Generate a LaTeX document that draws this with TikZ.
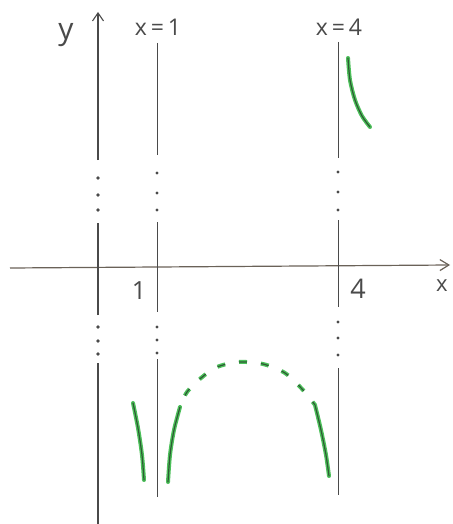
\documentclass[tikz,border=0pt]{standalone}
\usepackage{fontspec}
\setmainfont{Open Sans}
\usetikzlibrary{arrows.meta}
\definecolor{pencil}{HTML}{4A4A4A}
\definecolor{axisc}{HTML}{6A6258}
\definecolor{grn}{HTML}{4CC05A}
\definecolor{grnd}{HTML}{2E5A34}
\tikzset{
  pen/.style={draw=pencil, line width=1.1pt},
  dotm/.style={fill=pencil, draw=none},
  lbl/.style={text=pencil, inner sep=0pt, font=\fontsize{23}{23}\selectfont},
  branchg/.style={draw=grn, line width=4pt, line cap=round},
  branchd/.style={draw=grnd, line width=1.2pt, line cap=round},
}
\begin{document}
\begin{tikzpicture}[x=1pt,y=-1pt]
\useasboundingbox[fill=white] (0,0) rectangle (452,524);
% x-axis
\coordinate (xa0) at (10,268);
\coordinate (xa1) at (450,265);
\draw[draw=axisc, line width=1.2pt, -{Straight Barb[length=9pt,width=11pt]}] (xa0) -- (xa1);
% y-axis
\coordinate (ya0) at (98,524);
\coordinate (ya1) at (98,363);
\coordinate (ya2) at (98,315);
\coordinate (ya3) at (98,223);
\coordinate (ya4) at (98,160);
\coordinate (ya5) at (98,12);
\draw[pen] (ya0) -- (ya1);
\draw[pen] (ya2) -- (ya3);
\draw[pen, -{Straight Barb[length=8pt,width=11pt]}] (ya4) -- (ya5);
\foreach \yy in {354,341,327,210,195,178} \fill[dotm] (98,\yy) circle (1.9);
% asymptote x=1
\coordinate (a0) at (157,43);
\coordinate (a1) at (157,155);
\coordinate (a2) at (157,222);
\coordinate (a3) at (157,312);
\coordinate (a4) at (157,359);
\coordinate (a5) at (157,497);
\draw[pen, line width=0.9pt] (a0) -- (a1);
\draw[pen, line width=0.9pt] (a2) -- (a3);
\draw[pen, line width=0.9pt] (a4) -- (a5);
\foreach \yy in {173,193,210,327,340,353} \fill[dotm] (157,\yy) circle (1.7);
% asymptote x=4
\coordinate (b0) at (338,42);
\coordinate (b1) at (338,158);
\coordinate (b2) at (338,220);
\coordinate (b3) at (338,307);
\coordinate (b4) at (338,368);
\coordinate (b5) at (338,495);
\draw[pen, line width=0.9pt] (b0) -- (b1);
\draw[pen, line width=0.9pt] (b2) -- (b3);
\draw[pen, line width=0.9pt] (b4) -- (b5);
\foreach \yy in {172,192,210,322,338,355} \fill[dotm] (338,\yy) circle (1.7);
% labels
\node[lbl, font=\fontsize{30}{30}\selectfont] (ly) at (66,35) {y};
\node[lbl] (l1) at (158,27) {x\,=\,1};
\node[lbl] (l4) at (339,27) {x\,=\,4};
\node[lbl, font=\fontsize{25}{25}\selectfont] (t1) at (139,291) {1};
\node[lbl, font=\fontsize{27}{27}\selectfont] (t4) at (358,289) {4};
\node[lbl, font=\fontsize{22}{22}\selectfont] (tx) at (442,286) {x};
% green branches
\foreach \s in {branchg, branchd} {
  \draw[\s] plot[smooth] coordinates {(348,58) (350,80) (355,100) (362,116) (370,127)};
  \draw[\s] plot[smooth] coordinates {(133,403) (138,428) (142,455) (144,480)};
  \draw[\s] plot[smooth] coordinates {(168,482) (170,455) (174,430) (180,407)};
  \draw[\s] plot[smooth] coordinates {(315,405) (321,430) (326,455) (329,476)};
}
\draw[branchg, line cap=butt, dash pattern=on 8pt off 14pt, dash phase=9.5pt]
  plot[smooth] coordinates {(180,407) (187,392) (201,378) (217,367) (239,362) (263,364) (285,373) (303,390) (315,405)};
\draw[branchd, line cap=butt, dash pattern=on 8pt off 14pt, dash phase=9.5pt]
  plot[smooth] coordinates {(180,407) (187,392) (201,378) (217,367) (239,362) (263,364) (285,373) (303,390) (315,405)};
\end{tikzpicture}
\end{document}
